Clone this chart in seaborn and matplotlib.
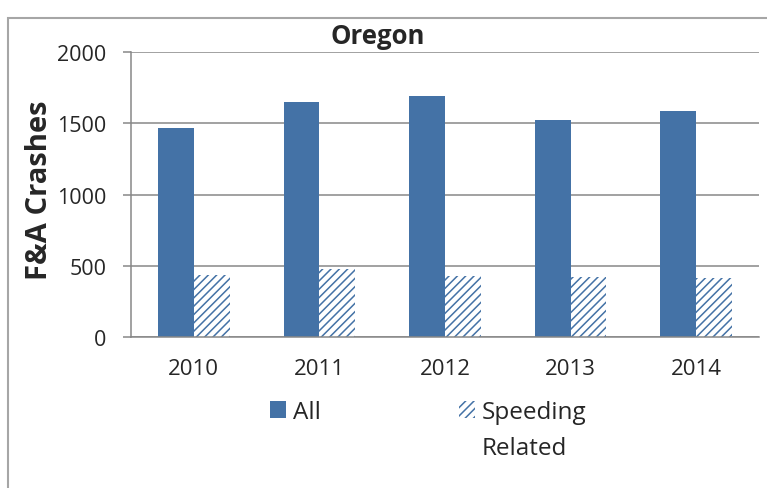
import pandas as pd
import matplotlib
matplotlib.use('Agg')
import matplotlib.pyplot as plt
import matplotlib.patches as mpatches
import seaborn as sns

# Data
years = ['2010', '2011', '2012', '2013', '2014']
all_crashes = [1467, 1649, 1691, 1523, 1588]
speeding_crashes = [435, 477, 426, 421, 414]
series_names = ['All', 'Speeding']

blue = '#4472A6'
grey = '#878787'

sns.set_style('white')
plt.rcParams['font.family'] = ['Open Sans', 'DejaVu Sans']
plt.rcParams['hatch.linewidth'] = 1.1

df = pd.DataFrame({
    'year': years * 2,
    'crashes': all_crashes + speeding_crashes,
    'series': [series_names[0]] * len(years) + [series_names[1]] * len(years),
})

W, H = 767, 489
fig = plt.figure(figsize=(W / 100, H / 100), dpi=100)
ax = fig.add_axes([131 / W, 1 - 338 / H, 628 / W, 285 / H])

sns.barplot(data=df, x='year', y='crashes', hue='series', hue_order=series_names,
            palette=[blue, blue], width=0.57, gap=0, saturation=1,
            legend=False, ax=ax)

# Speeding bars: white with blue diagonal hatch
for bar in ax.containers[1]:
    bar.set_facecolor('white')
    bar.set_edgecolor(blue)
    bar.set_hatch('////')
    bar.set_linewidth(0)
for bar in ax.containers[0]:
    bar.set_linewidth(0)

ax.set_ylim(0, 2000)
ax.set_xlim(-0.5, 4.5)
ax.set_yticks([0, 500, 1000, 1500, 2000])
ax.set_axisbelow(True)
ax.yaxis.grid(True, color=grey, linewidth=1.1)
ax.xaxis.grid(False)

for side in ['top', 'right']:
    ax.spines[side].set_visible(False)
ax.spines['left'].set_color(grey)
ax.spines['left'].set_linewidth(1.1)
ax.spines['bottom'].set_color(grey)
ax.spines['bottom'].set_linewidth(1.1)

ax.tick_params(axis='y', left=True, length=5.8, width=1.1, color=grey,
               pad=12, labelsize=15.5)
ax.tick_params(axis='x', bottom=False, length=0, pad=15, labelsize=16)

ax.set_xlabel('')
ax.set_ylabel('F&A Crashes', fontsize=21, fontweight='bold')
ax.yaxis.set_label_coords(-0.123, 0.52)

fig.text(378 / W, 1 - 44 / H, 'Oregon', ha='center', va='baseline',
         fontsize=18.5, fontweight='bold')

# Legend
h_all = mpatches.Patch(facecolor=blue, edgecolor=blue, linewidth=0)
h_spd = mpatches.Patch(facecolor='white', edgecolor=blue, hatch='////', linewidth=0)
leg = fig.legend([h_all, h_spd], ['All', 'Speeding'], loc='center left',
                 bbox_to_anchor=(270 / W, 1 - 413 / H), ncol=2, frameon=False,
                 fontsize=17.5, borderpad=0, borderaxespad=0,
                 handlelength=0.66, handleheight=0.66,
                 handletextpad=0.27, columnspacing=5.7)

fig.canvas.draw()
bb = leg.get_texts()[1].get_window_extent()
fig.text(bb.x0 / W, (bb.y0 + bb.y1) / 2 / H - 36 / H, 'Related',
         ha='left', va='center', fontsize=17.5)

# Light frame around the chart
fig.add_artist(mpatches.Rectangle((7.5 / W, -0.1), 1, 1.1 - 18.5 / H,
                                  transform=fig.transFigure, fill=False,
                                  edgecolor='#a6a6a6', linewidth=1.5))

fig.savefig('out.png', dpi=100)
